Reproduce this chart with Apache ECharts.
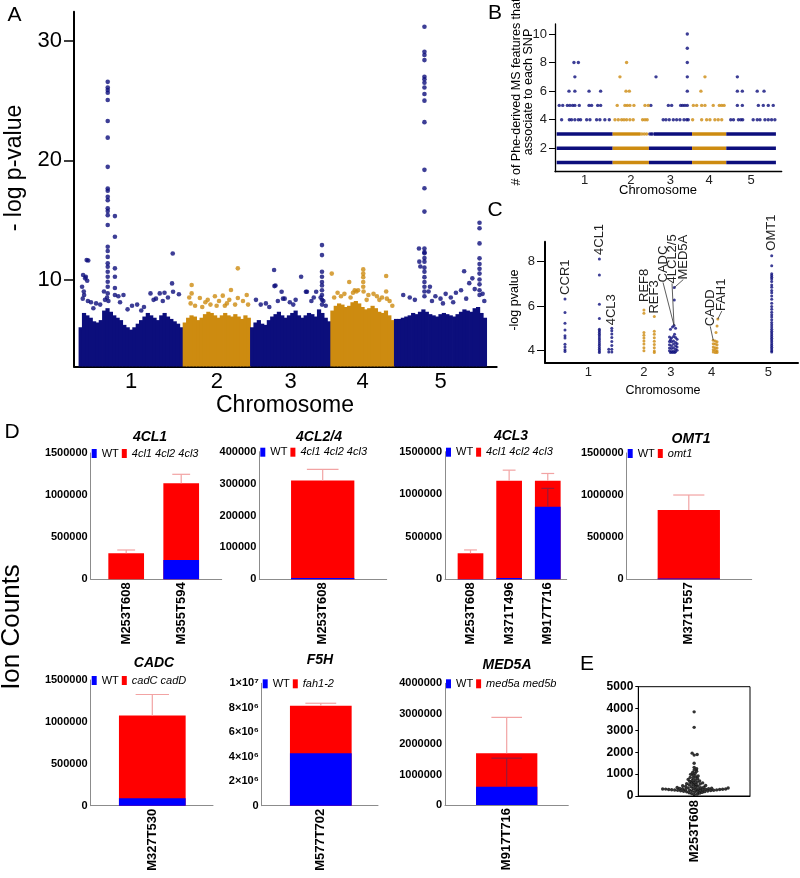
<!DOCTYPE html>
<html><head><meta charset="utf-8"><title>GWAS figure</title>
<script src="https://cdn.jsdelivr.net/npm/echarts@6.0.0/dist/echarts.min.js"></script>
<style>html,body{margin:0;padding:0;background:#fff;}#chart{width:800px;height:878px;}</style>
</head><body><div id="chart"></div>
<script>
// ================= DATA =================
const chromNames = ['1', '2', '3', '4', '5'];
const chromLen = [30.43, 19.70, 23.46, 18.59, 26.98];

// Panel A: top of the dense SNP band per ~1 Mb bin
const chr1Band = [6.0,7.2,7.0,6.8,6.5,6.4,6.6,7.4,7.6,7.3,7.0,6.8,6.6,6.2,6.0,5.8,6.0,6.3,6.6,6.9,7.2,7.0,6.8,6.6,7.0,7.2,6.9,6.7,6.5,6.3,6.0];
const chr2Band = [6.4,6.8,7.0,6.9,6.6,6.8,7.1,7.3,7.2,7.0,6.8,7.0,7.2,7.0,6.9,7.1,6.9,6.7,7.0,6.8];
const chr3Band = [6.0,6.4,6.6,6.3,6.2,6.6,6.9,7.1,7.3,7.0,6.8,7.0,7.2,7.4,7.0,6.8,7.0,7.2,7.1,6.9,7.5,7.2,6.8,6.5];
const chr4Band = [7.4,7.8,8.0,7.9,7.7,7.8,8.1,8.2,8.0,7.7,7.5,7.6,7.8,7.6,7.3,7.2,7.4,7.0,6.6];
const chr5Band = [6.7,6.7,6.8,6.9,7.0,7.2,7.1,7.3,7.5,7.3,7.1,7.0,6.9,7.1,7.2,7.1,7.0,6.9,7.1,7.3,7.5,7.4,7.3,7.6,7.7,7.2,6.8];

// Panel A: individual SNPs above the band  [position in chromosome (Mb), -log p]
const chr1Pts = [[8.4,26.58],[8.4,26.1],[8.4,25.9],[8.4,25.66],[8.4,25.05],[8.4,23.3],[8.4,21.9],[8.4,19.45],[8.4,17.64],[8.4,17.45],[8.4,16.94],[8.4,16.66],[8.4,15.97],[8.4,15.74],[8.4,15.4],[8.4,14.57],[8.4,12.75],[8.4,12.4],[8.4,11.9],[8.4,11.36],[8.4,11.07],[8.4,10.65],[8.4,10.23],[8.4,9.82],[8.4,9.4],[8.4,8.84],[8.2,8.5],[8.6,8.2],[7.3,9.0],[7.6,8.3],
 [10.5,15.32],[10.5,13.59],[10.5,10.94],[10.5,10.23],[10.5,9.29],[10.5,8.7],
 [2.25,11.63],[2.7,11.6],[1.2,10.38],[2.0,10.23],[2.4,9.9],[0.9,9.4],[1.5,8.7],[1.1,8.4],[2.6,8.2],[1.8,10.1],[1.4,9.0],
 [27.4,12.19],[27.2,9.68],[27.5,8.98],[20.9,8.84],[23.6,8.84],[13.0,8.7],[29.2,8.77],[22.5,8.4],[24.5,8.2],[17.0,7.9],[26.0,8.5],[5.0,8.0],[4.2,7.6],[11.5,8.6],[12.0,8.1],[19.0,7.7],[15.5,7.8],[21.8,8.3],[25.0,8.9],[3.5,8.1],[6.2,7.9],[14.2,7.5],[18.2,7.4]];
const chr2Pts = [[2.5,9.54],[16.0,10.94],[14.0,9.12],[18.6,8.7],[9.3,8.6],[11.6,8.65],[2.5,8.84],[4.9,8.45],[16.0,8.45],[1.8,8.5],[2.2,8.0],[6.5,8.1],[8.0,7.9],[10.5,8.2],[12.8,8.0],[13.5,8.3],[15.2,7.9],[17.5,8.2],[19.0,7.9],[3.5,7.8],[7.2,8.3],[12.2,7.8],[5.6,7.7],[9.8,7.8]];
const chr3Pts = [[6.9,10.8],[7.0,9.45],[7.3,9.5],[14.8,10.23],[9.1,8.98],[9.5,8.4],[10.0,8.4],[16.2,8.98],[16.5,8.98],[19.2,8.98],[1.6,8.3],
 [20.9,12.89],[20.9,12.05],[20.9,10.65],[20.9,10.23],[20.9,9.8],[20.9,9.5],[20.9,9.1],[20.9,8.7],[20.9,8.3],[20.9,7.9],
 [20.5,8.5],[21.3,8.2],[3.0,7.9],[4.5,8.0],[11.5,8.1],[12.5,7.9],[13.2,8.3],[17.8,8.2],[18.5,8.5],[22.0,7.8],[5.5,7.7],[8.0,8.2]];
const chr4Pts = [[0.3,10.5],[5.4,9.8],[9.5,10.85],[9.5,10.5],[9.5,10.2],[9.5,9.8],[9.5,9.4],[9.6,9.0],[16.2,10.3],[16.2,9.0],[16.4,8.4],[7.0,9.1],[7.5,9.0],[8.0,9.1],[6.5,8.9],[4.0,8.8],[3.0,8.6],[2.0,8.9],[1.0,8.5],[11.0,8.7],[12.5,8.8],[13.5,8.6],[15.0,8.5],[17.2,8.2],[18.0,7.8],[10.5,8.3],[5.8,8.5],[14.2,8.3]];
const chr5Pts = [[8.8,31.2],[8.8,29.1],[8.8,28.83],[8.8,28.4],[8.8,27.0],[8.8,26.8],[8.8,26.5],[8.8,26.1],[8.8,25.56],[8.8,25.0],[8.8,23.2],[8.8,19.2],[8.8,17.65],[8.8,15.7],[8.8,12.6],[8.8,12.3],[8.8,12.2],[8.8,11.8],[8.8,11.5],[8.8,11.0],[8.8,10.65],[8.8,10.2],[8.8,9.8],[8.8,9.4],[8.8,9.0],[8.8,8.6],
 [7.2,12.6],[7.3,11.5],[7.6,11.1],[10.4,9.4],[10.0,9.0],
 [24.9,14.76],[24.9,14.3],[24.9,13.03],[24.9,11.78],[24.9,11.3],[24.9,10.9],[24.9,10.5],[24.9,10.0],[24.9,9.6],[24.9,9.1],[24.9,8.7],
 [20.4,10.7],[21.9,9.7],[22.8,10.1],[19.5,9.1],[2.6,8.7],[4.5,8.5],[6.0,8.3],[12.0,8.6],[13.5,8.4],[15.0,8.8],[16.5,8.5],[18.0,8.9],[23.5,9.2],[25.8,8.8],[26.3,8.2],[11.0,8.2],[14.2,8.0],[17.2,8.1],[21.0,8.4]];

// Panel B: number of associated MS features per SNP (levels 4-10), [cumulative Mb, count]
const bNavyPts = [[71.0,10],[71.0,9],[9.4,8],[11.8,8],[71.0,8],[9.9,7],[54.0,7],[71.0,7],[98.2,7],
 [6.7,6],[9.9,6],[17.6,6],[23.9,6],[71.0,6],[98.2,6],[100.9,6],[109.0,6],[112.7,6],
 [1.4,5],[3.3,5],[5.8,5],[7.2,5],[8.7,5],[9.9,5],[12.3,5],[17.6,5],[19.0,5],[22.3,5],[23.9,5],[51.2,5],[60.7,5],[62.5,5],[67.4,5],[68.5,5],[69.7,5],[71.0,5],[98.2,5],[100.9,5],[109.6,5],[112.3,5],[115.0,5],[117.7,5],
 [2.7,4],[6.9,4],[8.1,4],[9.9,4],[11.8,4],[13.0,4],[16.3,4],[18.1,4],[21.7,4],[23.5,4],[26.2,4],[28.6,4],[57.9,4],[59.4,4],[61.2,4],[63.4,4],[65.2,4],[67.0,4],[69.2,4],[70.7,4],[71.5,4],[94.6,4],[96.1,4],[98.8,4],[100.1,4],[101.1,4],[106.8,4],[109.0,4],[110.5,4],[113.2,4],[115.0,4],[116.8,4],[118.6,4],
 [50.6,3],[51.4,3],[52.0,3]];
const bOrangePts = [[38.0,8],[34.4,7],[80.6,7],[37.7,6],[39.5,6],[78.4,6],
 [32.9,5],[37.1,5],[38.4,5],[39.8,5],[42.0,5],[48.0,5],[49.8,5],[74.3,5],[76.1,5],[78.8,5],[80.6,5],[85.1,5],[88.4,5],[89.7,5],[91.0,5],
 [31.7,4],[33.5,4],[35.3,4],[36.6,4],[38.0,4],[39.8,4],[41.6,4],[46.7,4],[48.0,4],[49.2,4],[73.9,4],[78.8,4],[81.5,4],[83.3,4],[86.0,4],[87.8,4],[89.7,4],
 [46.3,3],[47.6,3],[48.9,3]];
// Panel B: SNP runs at levels 1-3 that are too dense to separate, [start Mb, end Mb] within each chromosome
const bLevel1Span = [[0,30.43],[0,19.70],[0,23.46],[0,18.59],[0,26.98]];
const bLevel2Span = [[0,30.43],[0,19.70],[0,23.46],[0,18.59],[0,26.98]];
const bLevel3Span = [[0,30.43],[0,15.2],[2.6,23.46],[0,18.59],[0,26.98]];

// Panel C: candidate genes, [position on the plot axis, -log p]
const cCCR1 = [[7.9,6.32],[7.9,5.71],[7.9,5.22],[7.9,4.92],[7.9,4.66],[7.9,4.55],[7.9,4.27],[7.9,4.15],[7.9,4.02],[7.9,3.94]];
const c4CL1 = [[21.5,8.12],[21.5,7.40],[21.5,6.08],[21.5,5.44],[21.5,4.95],[21.5,4.88],[21.5,4.80],[21.5,4.72],[21.5,4.64],[21.5,4.55],[21.5,4.47],[21.5,4.38],[21.5,4.30],[21.5,4.22],[21.5,4.13],[21.5,4.05],[21.5,3.97],[21.5,3.90]];
const c4CL3 = [[26.4,4.99],[26.4,4.88],[26.4,4.74],[26.4,4.58],[26.4,4.40],[26.4,4.22],[26.4,4.05],[26.4,3.92],[25.2,4.05],[25.2,3.92]];
const cREF8 = [[39.1,5.82],[39.1,5.67],[39.1,4.80],[39.1,4.68],[39.1,4.55],[39.1,4.42],[39.1,4.28],[39.1,4.12],[39.1,3.98]];
const cREF3 = [[43.2,5.52],[43.2,4.86],[43.2,4.72],[43.2,4.57],[43.2,4.41],[43.2,4.26],[43.2,4.11],[43.2,3.97],[43.2,3.90]];
const cChr3 = [[49.6,4.95],[50.4,5.05],[51.0,5.12],[51.6,5.00],[49.2,4.60],[50.0,4.55],[50.8,4.62],[51.6,4.58],[52.2,4.50],[49.2,4.40],[50.0,4.38],[50.8,4.42],[51.6,4.35],[49.2,4.25],[50.0,4.20],[50.8,4.28],[51.6,4.20],[52.2,4.30],[49.2,4.10],[50.0,4.08],[50.8,4.12],[51.6,4.05],[49.2,3.98],[50.0,3.95],[50.8,3.97],[51.6,3.93],[52.2,4.00],[49.6,3.90],[50.4,3.90],[51.2,3.90],[52.2,4.15],[49.6,4.48],[51.2,4.72]];
const cMED5A = [[51.1,6.83],[51.1,6.27]];
const cChr4 = [[66.5,4.45],[67.3,4.42],[68.0,4.38],[66.5,4.30],[67.3,4.28],[68.0,4.25],[66.5,4.15],[67.3,4.12],[68.0,4.10],[66.5,4.02],[67.3,4.00],[68.0,3.97],[66.5,3.92],[67.3,3.90],[68.0,3.90],[67.6,4.80],[68.0,5.10],[68.3,5.41]];
const cOMT1 = [[89.6,8.27],[89.6,7.82],[89.6,7.45],[89.6,7.38],[89.6,7.30],[89.6,7.22],[89.6,7.10],[89.6,6.95],[89.6,6.85],[89.6,6.70],[89.6,6.60],[89.6,6.45],[89.6,6.30],[89.6,6.12],[89.6,5.98],[89.6,5.85],[89.6,5.72],[89.6,5.60],[89.6,5.50],[89.6,5.38],[89.6,5.25],[89.6,5.15],[89.6,5.05],[89.6,4.95],[89.6,4.86],[89.6,4.78],[89.6,4.70],[89.6,4.62],[89.6,4.54],[89.6,4.46],[89.6,4.38],[89.6,4.30],[89.6,4.22],[89.6,4.14],[89.6,4.06],[89.6,3.98],[89.6,3.92]];
const cChromTicks = [17.1, 39.1, 49.7, 65.9, 88.3];
const cLabelText = ['CCR1','4CL1','4CL3','REF8','REF3','CADC','4LCL2/5','MED5A','CADD','FAH1','OMT1'];
const cLabelAt = [[7.9,6.32],[21.5,8.12],[26.4,4.99],[39.1,5.82],[43.2,5.52],[51.0,5.12],[51.0,5.12],[51.1,6.83],[66.5,4.45],[68.3,5.41],[89.6,8.27]];

// Panel D: ion counts (mean) and top of error bar
const dTitles = ['4CL1','4CL2/4','4CL3','OMT1','CADC','F5H','MED5A'];
const dMutants = ['4cl1 4cl2 4cl3','4cl1 4cl2 4cl3','4cl1 4cl2 4cl3','omt1','cadC cadD','fah1-2','med5a med5b'];
const dFeatures = [['M253T608','M355T594'],['M253T608'],['M253T608','M371T496','M917T716'],['M371T557'],['M327T530'],['M577T702'],['M917T716']];
const dWT = [[2000,229000],[4000],[3000,15000,853000],[10000],[88000],[4280000],[600000]];
const dMut = [[308800,1140000],[310000],[306000,1159000,1159000],[823000],[1076000],[8170000],[1700000]];
const dMutErrTop = [[348000,1247000],[344700],[345000,1283000,1244000],[1001000],[1327000],[8370000],[2880000]];
const dWTErrTop = [[null,null],[null],[null,null,1069000],[null],[null],[null],[1540000]];
const dYMax = [1500000,400000,1500000,1500000,1500000,10000000,4000000];
const dYStep = [500000,100000,500000,500000,500000,2000000,1000000];

// Panel E: M253T608 ion counts across accessions
const eValues = [60,85,110,130,150,165,178,190,200,210,218,226,234,240,246,252,258,263,268,273,278,283,287,291,295,299,303,307,311,315,319,323,328,333,338,344,350,357,364,372,380,390,400,412,425,438,452,466,480,495,
 512,530,548,565,580,600,620,640,660,685,710,735,760,790,820,850,880,915,950,990,1030,1080,1130,1190,1250,1310,1500,1870,1900,1960,3140,3850];

// ================= LAYOUT / STYLE =================
const FONT = 'Liberation Sans';
const NAVY = '#0c0e7c', ORANGE = '#cd8b10';
const chromColor = [NAVY, ORANGE, NAVY, ORANGE, NAVY];
const chromStart = []; { let s = 0; for (const l of chromLen) { chromStart.push(s); s += l; } }
const chromMid = chromStart.map((s, i) => s + chromLen[i] / 2);
const chromFmt = v => { let best = 0; chromMid.forEach((m, i) => { if (Math.abs(m - v) < Math.abs(chromMid[best] - v)) best = i; }); return chromNames[best]; };

const grids = [
  {left: 74, top: 11.7, width: 422.7, height: 354.8},      // A
  {left: 555, top: 24, width: 226.7, height: 147.7},       // B
  {left: 545, top: 241.7, width: 253, height: 121},        // C
  {left: 90.7, top: 453, width: 131, height: 126.3},       // D 4CL1
  {left: 259.3, top: 451.7, width: 127.4, height: 127.6},  // D 4CL2/4
  {left: 445, top: 451.7, width: 121.7, height: 127.6},    // D 4CL3
  {left: 626.7, top: 453, width: 125, height: 126.3},      // D OMT1
  {left: 90.7, top: 680, width: 122.3, height: 125.7},     // D CADC
  {left: 261.7, top: 683.3, width: 116.3, height: 122.4},  // D F5H
  {left: 445, top: 683.3, width: 123.3, height: 121.7},    // D MED5A
  {left: 638.3, top: 686.7, width: 111.7, height: 109.3}   // E
].map(g => Object.assign({outerBoundsMode: 'none', containLabel: false}, g));
grids[10].show = true; grids[10].borderColor = '#000'; grids[10].borderWidth = 1;

const dXRange = [[-0.645,1.736],[-0.634,0.64],[-0.66,2.49],[-0.621,0.629],[-0.616,0.607],[-0.591,0.572],[-0.617,0.616]];
const dBarW = [35.7,63.3,25.7,62.3,66.7,61.7,61.3];
const dTitlePos = [[150,437],[319,437],[511,436],[691,439],[154,663],[320,660],[507,665]];

const xAxes = [], yAxes = [], series = [], legends = [];
const blackLine = w => ({show: true, onZero: false, lineStyle: {color: '#000', width: w}});

// ---- Panel A ----
xAxes.push({gridIndex: 0, type: 'value', min: -1.46, max: 122.1, splitLine: {show: false},
  axisLine: blackLine(2), axisTick: {show: false},
  axisLabel: {customValues: chromMid, formatter: chromFmt, fontSize: 22, color: '#000', fontFamily: FONT, margin: 4}});
yAxes.push({gridIndex: 0, type: 'value', min: 2.71, max: 32.46, splitLine: {show: false},
  axisLine: blackLine(2), axisTick: {show: true, customValues: [10, 20, 30], length: 10, lineStyle: {color: '#000', width: 1.5}},
  axisLabel: {customValues: [10, 20, 30], fontSize: 22, color: '#000', fontFamily: FONT, margin: 12}});
const aBandData = [];
[chr1Band, chr2Band, chr3Band, chr4Band, chr5Band].forEach((band, c) => {
  const w = chromLen[c] / band.length;
  band.forEach((v, j) => aBandData.push({value: [chromStart[c] + (j + 0.5) * w, v], itemStyle: {color: chromColor[c]}}));
});
const aPtData = [];
[chr1Pts, chr2Pts, chr3Pts, chr4Pts, chr5Pts].forEach((pts, c) => pts.forEach(p => aPtData.push({value: [chromStart[c] + p[0], p[1]], itemStyle: {color: chromColor[c]}})));
series.push({type: 'bar', xAxisIndex: 0, yAxisIndex: 0, data: aBandData, barWidth: 4.2, clip: true, silent: true, z: 2});
series.push({type: 'scatter', xAxisIndex: 0, yAxisIndex: 0, data: aPtData, symbolSize: 4.6, silent: true, z: 3});

// ---- Panel B ----
xAxes.push({gridIndex: 1, type: 'value', min: -0.9, max: 122.3, splitLine: {show: false},
  axisLine: blackLine(1.3), axisTick: {show: false},
  axisLabel: {customValues: chromMid, formatter: chromFmt, fontSize: 13, color: '#222', fontFamily: FONT, margin: 2}});
yAxes.push({gridIndex: 1, type: 'value', min: 0.36, max: 10.7, splitLine: {show: false},
  axisLine: blackLine(1.3), axisTick: {show: true, customValues: [2, 4, 6, 8, 10], length: 6, lineStyle: {color: '#000', width: 1}},
  axisLabel: {customValues: [2, 4, 6, 8, 10], fontSize: 13, color: '#222', fontFamily: FONT, margin: 8}});
const bSegData = [];
[[1, bLevel1Span], [2, bLevel2Span], [3, bLevel3Span]].forEach(([lvl, spans]) => spans.forEach((s, c) => bSegData.push([chromStart[c] + s[0], chromStart[c] + s[1], lvl, c])));
series.push({type: 'custom', xAxisIndex: 1, yAxisIndex: 1, data: bSegData, encode: {x: [0, 1], y: 2}, silent: true,
  renderItem: (params, api) => {
    const a = api.coord([api.value(0), api.value(2)]), b = api.coord([api.value(1), api.value(2)]);
    return {type: 'line', shape: {x1: a[0], y1: a[1], x2: b[0], y2: b[1]}, style: {stroke: chromColor[api.value(3)], lineWidth: 3.4}};
  }});
series.push({type: 'scatter', xAxisIndex: 1, yAxisIndex: 1, data: bNavyPts, symbolSize: 3.4, itemStyle: {color: NAVY}, silent: true});
series.push({type: 'scatter', xAxisIndex: 1, yAxisIndex: 1, data: bOrangePts, symbolSize: 3.4, itemStyle: {color: ORANGE}, silent: true});

// ---- Panel C ----
xAxes.push({gridIndex: 2, type: 'value', min: 0, max: 100, splitLine: {show: false},
  axisLine: blackLine(2), axisTick: {show: false},
  axisLabel: {customValues: cChromTicks, formatter: v => chromNames[cChromTicks.indexOf(v)], fontSize: 13, color: '#222', fontFamily: FONT, margin: 3}});
yAxes.push({gridIndex: 2, type: 'value', min: 3.44, max: 8.9, splitLine: {show: false},
  axisLine: blackLine(2), axisTick: {show: true, customValues: [4, 6, 8], length: 8, lineStyle: {color: '#000', width: 1}},
  axisLabel: {customValues: [4, 6, 8], fontSize: 13, color: '#222', fontFamily: FONT, margin: 10}});
[[cCCR1, NAVY], [c4CL1, NAVY], [c4CL3, NAVY], [cREF8, ORANGE], [cREF3, ORANGE], [cChr3, NAVY], [cMED5A, NAVY], [cChr4, ORANGE], [cOMT1, NAVY]].forEach(([d, col]) =>
  series.push({type: 'scatter', xAxisIndex: 2, yAxisIndex: 2, data: d, symbolSize: 3, itemStyle: {color: col}, silent: true}));
const cLabelShift = [[0,-4],[0,-4],[0,-3],[0,-8],[0,-3],[-11,-43],[-2,-42],[9,-8],[-3,-14],[4,-8],[0,-5]];
const cLabelLeader = [0,0,0,0,0,1,1,1,1,1,0];
series.push({type: 'custom', xAxisIndex: 2, yAxisIndex: 2, data: cLabelAt, encode: {x: 0, y: 1}, silent: true, z: 5,
  renderItem: (params, api) => {
    const i = params.dataIndex;
    const p = api.coord([api.value(0), api.value(1)]);
    const s = cLabelShift[i];
    const tx = p[0] + s[0], ty = p[1] + s[1];
    const children = [{type: 'text', x: tx, y: ty, rotation: Math.PI / 2,
      style: {text: cLabelText[i], font: '13px ' + FONT, fill: '#222', textAlign: 'left', textVerticalAlign: 'middle', align: 'left', verticalAlign: 'middle'}}];
    if (cLabelLeader[i]) children.push({type: 'line', shape: {x1: p[0], y1: p[1], x2: tx, y2: ty}, style: {stroke: '#333', lineWidth: 0.8}});
    return {type: 'group', children};
  }});

// ---- Panel D ----
const greyLine = {show: true, onZero: false, lineStyle: {color: '#8c8c8c', width: 1}};
const errRender = (color) => (params, api) => {
  const x = api.value(0), m = api.value(1), t = api.value(2), cap = api.value(3);
  const p0 = api.coord([x, m]), p1 = api.coord([x, t]);
  return {type: 'group', children: [
    {type: 'line', shape: {x1: p0[0], y1: p0[1], x2: p1[0], y2: p1[1]}, style: {stroke: color, lineWidth: 1.2}},
    {type: 'line', shape: {x1: p1[0] - cap / 2, y1: p1[1], x2: p1[0] + cap / 2, y2: p1[1]}, style: {stroke: color, lineWidth: 1.2}}
  ]};
};
const f5hFmt = v => v === 0 ? '0' : (v >= 1e7 ? (v / 1e7) + '×10⁷' : (v / 1e6) + '×10⁶');
dTitles.forEach((t, k) => {
  const gi = 3 + k;
  const feats = dFeatures[k];
  const idx = feats.map((_, i) => i);
  xAxes.push({gridIndex: gi, type: 'value', min: dXRange[k][0], max: dXRange[k][1], splitLine: {show: false},
    axisLine: greyLine, axisTick: {show: false},
    axisLabel: {customValues: idx, formatter: v => feats[Math.round(v)], rotate: 90, fontSize: 13, fontWeight: 'bold', color: '#000', fontFamily: FONT, margin: 3}});
  yAxes.push({gridIndex: gi, type: 'value', min: 0, max: dYMax[k], interval: dYStep[k], splitLine: {show: false},
    axisLine: greyLine, axisTick: {show: false},
    axisLabel: {fontSize: 11, fontWeight: 'bold', color: '#000', fontFamily: FONT, margin: 3, formatter: k === 5 ? f5hFmt : (v => String(v))}});
  const xi = xAxes.length - 1, yi = yAxes.length - 1;
  series.push({type: 'bar', name: dMutants[k], xAxisIndex: xi, yAxisIndex: yi, barWidth: dBarW[k], barGap: '-100%',
    itemStyle: {color: '#ff0000'}, data: dMut[k].map((v, i) => [i, v]), silent: true, z: 2});
  series.push({type: 'bar', name: 'WT', xAxisIndex: xi, yAxisIndex: yi, barWidth: dBarW[k], barGap: '-100%',
    itemStyle: {color: '#0000ff'}, data: dWT[k].map((v, i) => [i, v]), silent: true, z: 3});
  series.push({type: 'custom', xAxisIndex: xi, yAxisIndex: yi, encode: {x: 0, y: [1, 2]}, silent: true, z: 4,
    data: dMut[k].map((v, i) => [i, v, dMutErrTop[k][i], dBarW[k] / 2]), renderItem: errRender('#f2a3a3')});
  const wtErr = dWT[k].map((v, i) => [i, v, dWTErrTop[k][i], dBarW[k] / 2]).filter(d => d[2] !== null);
  if (wtErr.length) series.push({type: 'custom', xAxisIndex: xi, yAxisIndex: yi, encode: {x: 0, y: [1, 2]}, silent: true, z: 4,
    data: wtErr, renderItem: errRender('#9a1838')});
  legends.push({left: grids[gi].left + 1, top: grids[gi].top - 5, padding: 0, itemWidth: 5, itemHeight: 9, itemGap: 3,
    icon: 'rect', selectedMode: false, textStyle: {fontSize: 11, color: '#000', fontFamily: FONT},
    data: [{name: 'WT'}, {name: dMutants[k], textStyle: {fontStyle: 'italic'}}]});
});

// ---- Panel E (beeswarm) ----
xAxes.push({gridIndex: 10, type: 'value', min: -1, max: 1, splitLine: {show: false},
  axisLine: blackLine(1), axisTick: {show: false},
  axisLabel: {customValues: [0], formatter: () => 'M253T608', rotate: 90, fontSize: 13, fontWeight: 'bold', color: '#000', fontFamily: FONT, margin: 4}});
yAxes.push({gridIndex: 10, type: 'value', min: 0, max: 5000, interval: 1000, splitLine: {show: false},
  axisLine: blackLine(1), axisTick: {show: true, length: 3, lineStyle: {color: '#000'}},
  axisLabel: {fontSize: 12, fontWeight: 'bold', color: '#000', fontFamily: FONT, margin: 5, formatter: v => String(v)}});
const ePxPerVal = grids[10].height / 5000, ePxPerX = grids[10].width / 2, eMinD = 2.6;
const ePlaced = [], eData = [];
for (const v of eValues) {
  const y = v * ePxPerVal; let off = 0;
  for (let k = 0; k < 600; k++) {
    const o = (k % 2 ? 1 : -1) * Math.ceil(k / 2) * 0.5;
    if (ePlaced.every(q => (q[0] - o) ** 2 + (q[1] - y) ** 2 >= eMinD * eMinD)) { off = o; break; }
  }
  ePlaced.push([off, y]); eData.push([off / ePxPerX, v]);
}
series.push({type: 'scatter', xAxisIndex: xAxes.length - 1, yAxisIndex: yAxes.length - 1, data: eData, symbolSize: 3.4, itemStyle: {color: '#000'}, silent: true});

// ---- texts ----
const txt = (text, x, y, font, rot) => ({type: 'text', x, y, rotation: rot ? Math.PI / 2 : 0, silent: true,
  style: {text, font, fill: '#000', textAlign: 'center', textVerticalAlign: 'middle', align: 'center', verticalAlign: 'middle'}});
const graphics = [
  txt('A', 14.5, 15, '21px ' + FONT), txt('B', 495, 13, '21px ' + FONT), txt('C', 495, 210, '21px ' + FONT),
  txt('D', 12, 432, '21px ' + FONT), txt('E', 587, 664, '21px ' + FONT),
  txt('- log p-value', 15, 168, '23px ' + FONT, true), txt('Chromosome', 285, 406, '23px ' + FONT),
  txt('# of Phe-derived MS features that\nassociate to each SNP', 522.5, 92, '12.5px ' + FONT, true),
  txt('Chromosome', 658, 190, '13px ' + FONT),
  txt('-log pvalue', 515, 300, '12.5px ' + FONT, true), txt('Chromosome', 663, 391, '12.5px ' + FONT),
  txt('Ion Counts', 12, 627, '26px ' + FONT, true)
];
graphics[7].style.lineHeight = 12;
dTitles.forEach((t, k) => graphics.push(txt(t, dTitlePos[k][0], dTitlePos[k][1], 'italic bold 14px ' + FONT)));

const chart = echarts.init(document.getElementById('chart'), null, {renderer: 'canvas'});
chart.setOption({
  animation: false, backgroundColor: '#fff',
  textStyle: {fontFamily: FONT},
  grid: grids, xAxis: xAxes, yAxis: yAxes, series, legend: legends, graphic: graphics
});
</script></body></html>
